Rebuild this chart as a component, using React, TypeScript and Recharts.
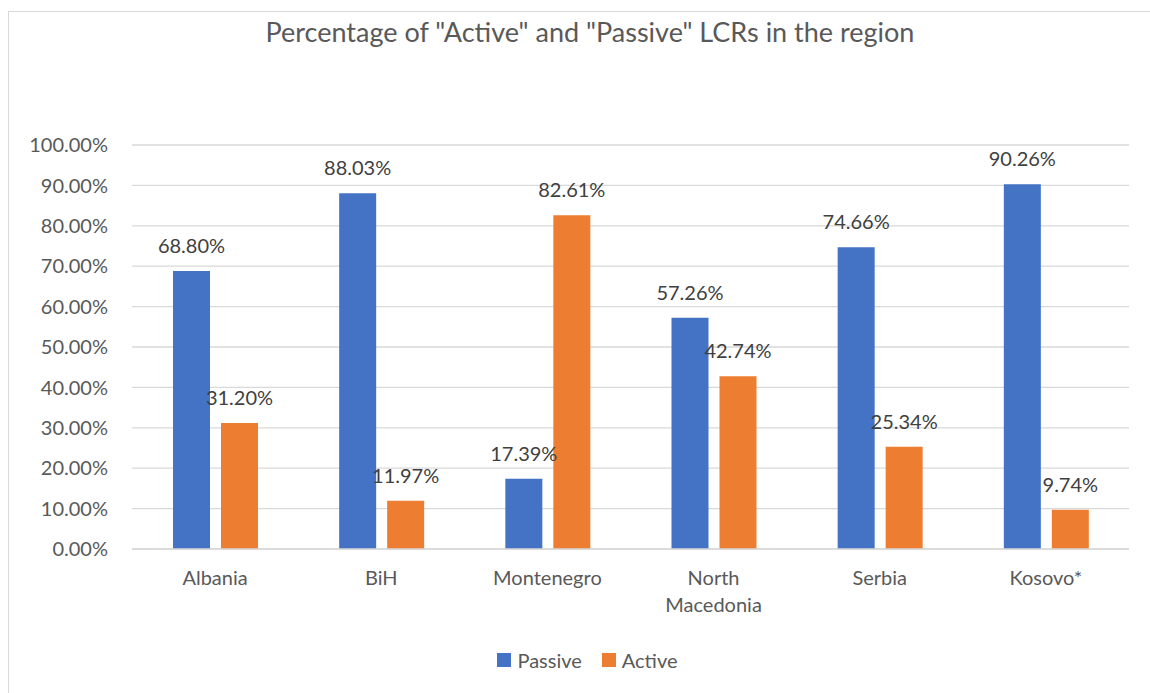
import { BarChart, Bar, XAxis, YAxis, CartesianGrid, Legend, LabelList } from "recharts";

const countries = ["Albania", "BiH", "Montenegro", "North Macedonia", "Serbia", "Kosovo*"];
const passive = [68.8, 88.03, 17.39, 57.26, 74.66, 90.26];
const active = [31.2, 11.97, 82.61, 42.74, 25.34, 9.74];
const yTicks = [0, 10, 20, 30, 40, 50, 60, 70, 80, 90, 100];

const FONT = "Lato, 'Open Sans', sans-serif";
const BLUE = "#4472C4";
const ORANGE = "#ED7D31";

const data = countries.map((c, i) => ({ country: c, Passive: passive[i], Active: active[i] }));

const pct = (v: number) => `${Number(v).toFixed(2)}%`;

// category labels wrap like Excel does ("North Macedonia" goes on two lines)
const CategoryTick = ({ x, y, payload }: any) => {
  const words = String(payload.value).split(" ");
  return (
    <text x={x} y={y} textAnchor="middle" fontSize={20} fontFamily={FONT} fill="#595959">
      {words.map((w, i) => (
        <tspan key={i} x={x} dy={i === 0 ? 16 : 27}>
          {w}
        </tspan>
      ))}
    </text>
  );
};

const renderLegend = () => (
  <div style={{ display: "flex", justifyContent: "center", gap: 20, fontFamily: FONT, fontSize: 20, color: "#595959" }}>
    {[
      { name: "Passive", color: BLUE },
      { name: "Active", color: ORANGE },
    ].map((s) => (
      <div key={s.name} style={{ display: "flex", alignItems: "center", gap: 6 }}>
        <span style={{ width: 14, height: 14, background: s.color, display: "inline-block" }} />
        <span>{s.name}</span>
      </div>
    ))}
  </div>
);

export default function App() {
  return (
    <div style={{ position: "absolute", left: 0, top: 0, width: 1150, height: 693, overflow: "hidden", background: "#fff" }}>
      <div
        style={{
          position: "absolute",
          left: 8,
          top: 11,
          width: 1150,
          height: 700,
          border: "1px solid #d9d9d9",
          boxSizing: "border-box",
        }}
      />
      <div
        style={{
          position: "absolute",
          top: 15,
          left: 0,
          width: 1180,
          textAlign: "center",
          fontFamily: FONT,
          fontSize: 27,
          color: "#595959",
        }}
      >
        Percentage of "Active" and "Passive" LCRs in the region
      </div>
      <div style={{ position: "absolute", left: 0, top: 0 }}>
        <BarChart
          width={1150}
          height={693}
          data={data}
          margin={{ top: 145, right: 21, left: 0, bottom: 60 }}
          barGap={11}
          barSize={37}
        >
          <CartesianGrid vertical={false} stroke="#d9d9d9" strokeWidth={1.3} />
          <XAxis
            dataKey="country"
            tick={<CategoryTick />}
            tickLine={false}
            axisLine={{ stroke: "#d9d9d9", strokeWidth: 1.5 }}
            tickMargin={14}
            interval={0}
            height={60}
          />
          <YAxis
            domain={[0, 100]}
            ticks={yTicks}
            tickFormatter={pct}
            axisLine={false}
            tickLine={false}
            tickSize={0}
            tickMargin={24}
            width={132}
            tick={{ fontSize: 20, fontFamily: FONT, fill: "#595959" }}
          />
          <Legend content={renderLegend} wrapperStyle={{ top: 648, left: 0, width: 1175 }} />
          <Bar dataKey="Passive" fill={BLUE} isAnimationActive={false}>
            <LabelList dataKey="Passive" position="top" offset={18} formatter={pct} fontSize={20} fontFamily={FONT} fill="#404040" />
          </Bar>
          <Bar dataKey="Active" fill={ORANGE} isAnimationActive={false}>
            <LabelList dataKey="Active" position="top" offset={18} formatter={pct} fontSize={20} fontFamily={FONT} fill="#404040" />
          </Bar>
        </BarChart>
      </div>
    </div>
  );
}
